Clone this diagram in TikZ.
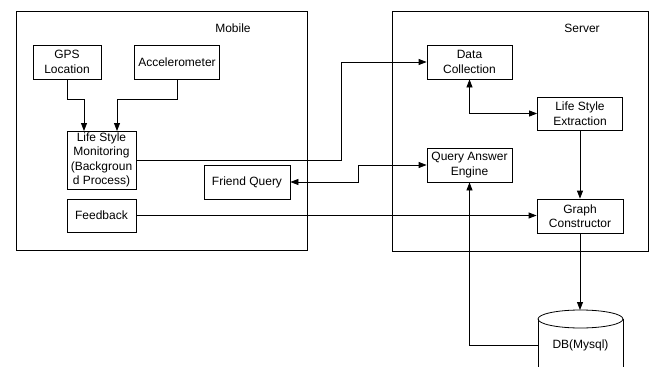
\documentclass[tikz,border=0pt]{standalone}
\usepackage{fontspec}
\setmainfont{Liberation Sans}
\usetikzlibrary{arrows.meta}
\begin{document}
\begin{tikzpicture}[x=1pt,y=-1pt,
  every node/.style={font=\fontsize{12}{14.5}\selectfont, inner sep=0pt},
  box/.style={draw, line width=0.8pt, align=center, minimum height=34pt},
  area/.style={draw, line width=0.8pt},
  link/.style={line width=0.8pt},
  arr/.style={link, -{Triangle[length=8pt,width=6pt]}},
  arrs/.style={link, {Triangle[length=8pt,width=6pt]}-{Triangle[length=8pt,width=6pt]}}]
\useasboundingbox (0,0) rectangle (649,367);

% client and server areas
\node[area, minimum width=291pt, minimum height=239pt] (mobile) at (161.5,130.5) {};
\node (mobilelbl) at (233,28) {Mobile};
\node[area, minimum width=256pt, minimum height=240pt] (server) at (520,131) {};
\node (serverlbl) at (582,28) {Server};

% mobile components
\node[box, minimum width=68pt] (gps) at (67,62) {GPS\\Location};
\node[box, minimum width=85pt] (acc) at (177,62) {Accelerometer};
\node[box, minimum width=69pt, minimum height=58pt] (lsm) at (101.5,160) {Life Style\\Monitoring\\(Backgroun\\d Process)};
\node[box, minimum width=69pt, minimum height=33pt] (fb) at (101.5,215.5) {Feedback};
\node[box, minimum width=86pt] (fq) at (247,182) {Friend Query};

% server components
\node[box, minimum width=85pt] (dc) at (469.5,62) {Data\\Collection};
\node[box, minimum width=85pt, minimum height=33pt] (lse) at (580,113.5) {Life Style\\Extraction};
\node[box, minimum width=85pt] (qae) at (469.5,165) {Query Answer\\Engine};
\node[box, minimum width=86pt] (gc) at (580,216) {Graph\\Constructor};

% database cylinder
\draw[line width=0.8pt] (538,319) -- (538,368) (623,319) -- (623,368);
\draw[line width=0.8pt] (580.5,319) ellipse [x radius=42.5, y radius=9];
\coordinate (dbtop) at (580,310);
\node[minimum width=85pt] (db) at (580.5,345) {DB(Mysql)};

% connectors
\draw[arr] (gps.south) -- ++(0,20) -| (84,131);
\draw[arr] (acc.south) -- ++(0,20) -| (117,131);
\draw[arr] (lsm.east) -- (341,160) |- (dc.west);
\draw[arrs] (fq.east) -- (358,182) |- (qae.west);
\draw[arr] (fb.east) -- (fb.east -| gc.west);
\draw[arrs] (dc.south) |- (lse.west);
\draw[arr] (lse.south) -- (gc.north);
\draw[arr] (gc.south) -- (dbtop);
\draw[arr] (db.west) -| (qae.south);
\end{tikzpicture}
\end{document}
